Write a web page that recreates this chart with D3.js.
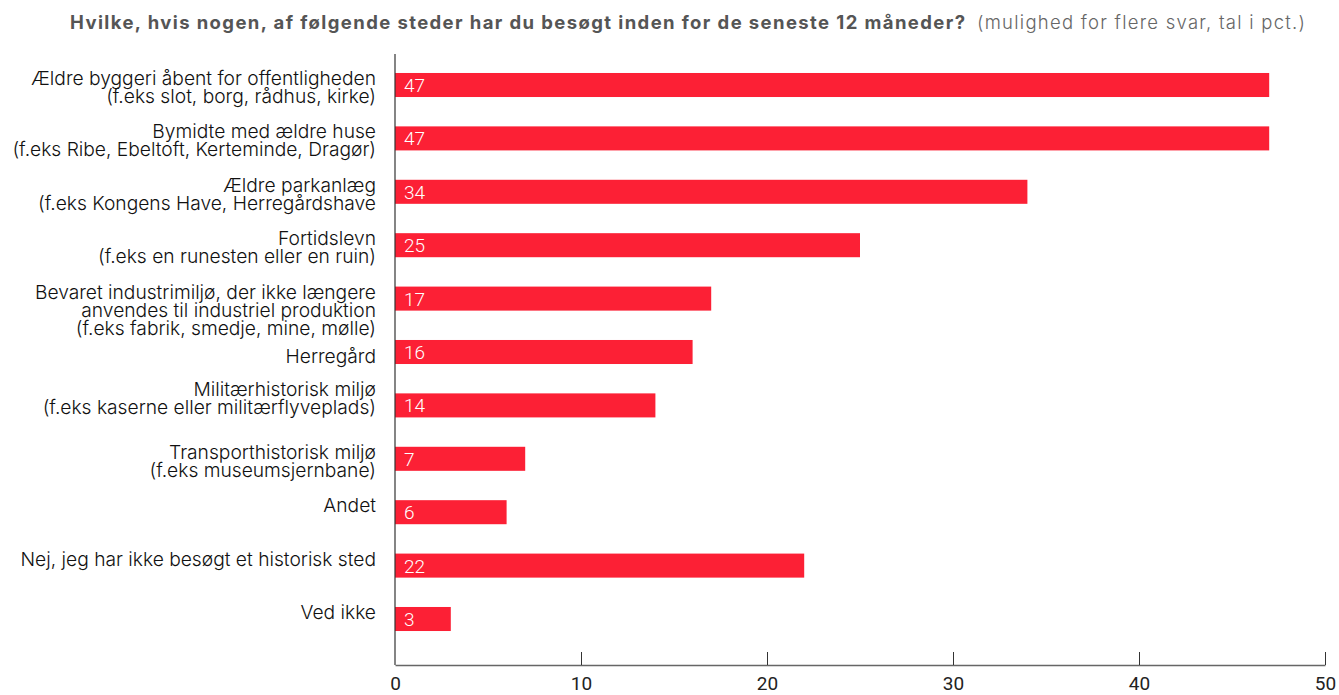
<!DOCTYPE html>
<html>
<head>
<meta charset="utf-8">
<script src="https://cdn.jsdelivr.net/npm/d3@7"></script>
<style>
  html, body { margin: 0; padding: 0; background: #fff; }
  svg { display: block; }
</style>
</head>
<body>
<svg id="chart" width="1339" height="695"></svg>
<script>
// ---- DATA ----
const titleText = "Hvilke, hvis nogen, af følgende steder har du besøgt inden for de seneste 12 måneder?";
const subtitleText = "(mulighed for flere svar, tal i pct.)";
const categories = [
  ["Ældre byggeri åbent for offentligheden", "(f.eks slot, borg, rådhus, kirke)"],
  ["Bymidte med ældre huse", "(f.eks Ribe, Ebeltoft, Kerteminde, Dragør)"],
  ["Ældre parkanlæg", "(f.eks Kongens Have, Herregårdshave"],
  ["Fortidslevn", "(f.eks en runesten eller en ruin)"],
  ["Bevaret industrimiljø, der ikke længere", "anvendes til industriel produktion", "(f.eks fabrik, smedje, mine, mølle)"],
  ["Herregård"],
  ["Militærhistorisk miljø", "(f.eks kaserne eller militærflyveplads)"],
  ["Transporthistorisk miljø", "(f.eks museumsjernbane)"],
  ["Andet"],
  ["Nej, jeg har ikke besøgt et historisk sted"],
  ["Ved ikke"]
];
const values = [47, 47, 34, 25, 17, 16, 14, 7, 6, 22, 3];
const xTicks = [0, 10, 20, 30, 40, 50];

// ---- LAYOUT ----
const svg = d3.select("#chart");
const x = d3.scaleLinear().domain([0, 50]).range([395, 1325]);
const y = d3.scaleBand()
  .domain(d3.range(categories.length))
  .range([58.3, 645.7])
  .paddingInner(0.55)
  .paddingOuter(0.275);
const axisY = 665;
const labelFont = "Inter, 'Open Sans', sans-serif";
const numFont = "Roboto, 'DejaVu Sans', sans-serif";

function lsFor(node, text, target) {
  const w = node.getComputedTextLength();
  return (target - w) / Math.max(1, text.length - 1);
}

// Title
const title = svg.append("text")
  .attr("x", 70).attr("y", 29)
  .attr("font-family", labelFont)
  .attr("font-weight", 700)
  .attr("font-size", 18.5)
  .attr("fill", "#555")
  .text(titleText);
title.attr("letter-spacing", lsFor(title.node(), titleText, 895).toFixed(3));

const sub = svg.append("text")
  .attr("x", 977).attr("y", 29)
  .attr("font-family", labelFont)
  .attr("font-weight", 300)
  .attr("font-size", 18.5)
  .attr("fill", "#666")
  .text(subtitleText);
sub.attr("letter-spacing", lsFor(sub.node(), subtitleText, 328).toFixed(3));

// Bars
svg.append("g").selectAll("rect")
  .data(values)
  .join("rect")
  .attr("x", x(0))
  .attr("y", (d, i) => y(i))
  .attr("width", d => x(d) - x(0))
  .attr("height", y.bandwidth())
  .attr("fill", "#fc2035");

// Value labels
svg.append("g").selectAll("text")
  .data(values)
  .join("text")
  .attr("x", x(0) + 9)
  .attr("y", (d, i) => y(i) + y.bandwidth() / 2 + 7)
  .attr("font-family", numFont)
  .attr("font-weight", 300)
  .attr("font-size", 19)
  .attr("fill", "#fff")
  .text(d => d);

// Category labels
const nudge = {5: 11, 6: -9};
const lineH = 18;
const catG = svg.append("g");
// size the label font so the widest line fills the original's label column
const probe = catG.append("text").attr("font-family", labelFont).attr("font-size", 17)
  .attr("font-weight", 300).attr("letter-spacing", 0);
let maxW = 0;
categories.flat().forEach(s => { probe.text(s); maxW = Math.max(maxW, probe.node().getComputedTextLength()); });
const catSize = 17 * 364 / maxW;
probe.remove();

categories.forEach((lines, i) => {
  const cy = y(i) + y.bandwidth() / 2;
  const firstCenter = cy - 6 + (nudge[i] || 0);
  const t = catG.append("text")
    .attr("text-anchor", "end")
    .attr("font-family", labelFont)
    .attr("font-weight", 300)
    .attr("font-size", catSize.toFixed(2))
    .attr("letter-spacing", 0)
    .attr("fill", "#111");
  lines.forEach((ln, j) => {
    t.append("tspan")
      .attr("x", 376)
      .attr("y", firstCenter + j * lineH + 6)
      .text(ln);
  });
});

// Vertical axis line
svg.append("line")
  .attr("x1", x(0)).attr("x2", x(0))
  .attr("y1", 54).attr("y2", axisY)
  .attr("stroke", "#333").attr("stroke-width", 1.2);

// Bottom axis
const xAxis = d3.axisBottom(x).tickValues(xTicks).tickSize(0).tickPadding(12);
const gx = svg.append("g")
  .attr("transform", `translate(0,${axisY})`)
  .call(xAxis);
gx.select(".domain").attr("stroke", "#666").attr("stroke-width", 1.5);
gx.selectAll(".tick text")
  .attr("font-family", numFont)
  .attr("font-size", 19)
  .attr("fill", "#222")
  .attr("dy", "0.71em");
gx.selectAll(".tick line").remove();
gx.selectAll(".tick")
  .filter(d => d !== 0)
  .append("line")
  .attr("y1", 0).attr("y2", -13)
  .attr("stroke", "#333").attr("stroke-width", 1);
</script>
</body>
</html>
